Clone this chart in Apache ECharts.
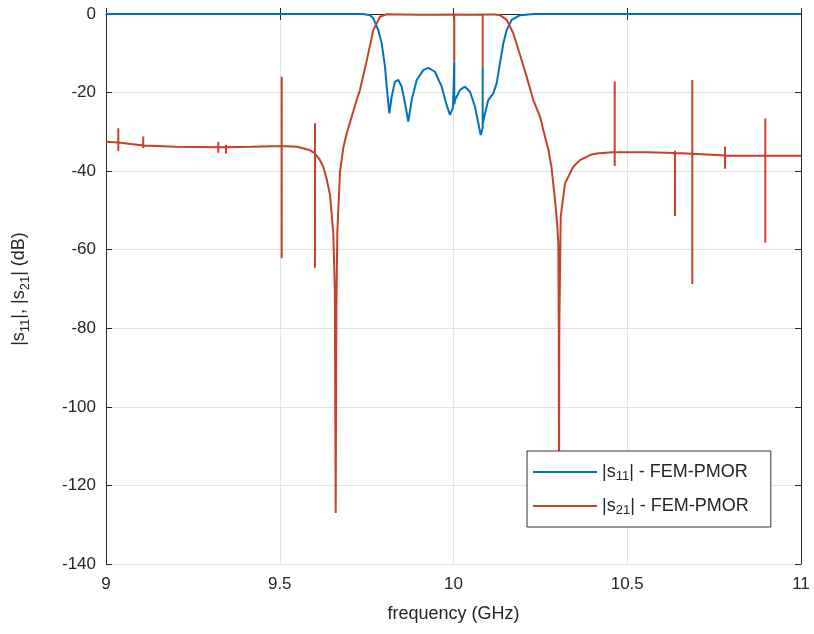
<!DOCTYPE html>
<html><head><meta charset="utf-8">
<script src="https://cdn.jsdelivr.net/npm/echarts@6/dist/echarts.min.js"></script>
<style>html,body{margin:0;padding:0;background:#fff}#c{width:814px;height:634px}</style>
</head><body><div id="c"></div>
<script>
// |s11| (blue) — frequency in GHz, magnitude in dB
const s11Freq = [9.0, 9.5, 9.74, 9.7597, 9.7692, 9.7836, 9.7934, 9.8029, 9.8078, 9.8153, 9.8222, 9.8317, 9.8412, 9.8509, 9.8604, 9.8699, 9.8797, 9.8941, 9.9131, 9.9275, 9.9468, 9.9660, 9.9804, 9.9899, 9.9985, 10.0023, 10.0023, 10.0023, 10.0043, 10.0187, 10.0331, 10.0475, 10.0619, 10.0714, 10.0783, 10.084, 10.084, 10.084, 10.0906, 10.1001, 10.1145, 10.1243, 10.1338, 10.1433, 10.1531, 10.1674, 10.1914, 10.2317, 11.0];
const s11Db   = [0, 0, 0, -0.3, -1.1, -4.1, -7.5, -13.4, -18.5, -25.3, -21.0, -17.2, -16.8, -18.5, -22.7, -27.4, -21.9, -16.8, -14.3, -13.7, -14.7, -18.5, -23.2, -25.7, -23.8, -23.5, -12.1, -23.0, -21.9, -19.3, -18.5, -19.8, -23.6, -27.8, -30.8, -29.0, -13.4, -28.0, -25.3, -21.9, -20.2, -17.6, -12.5, -7.5, -4.1, -1.5, -0.3, 0, 0];

// |s21| (red)
const s21Freq = [9.0, 9.0354, 9.0354, 9.0354, 9.0354, 9.1073, 9.1073, 9.1073, 9.1073, 9.2, 9.3232, 9.3232, 9.3232, 9.3232, 9.3453, 9.3453, 9.3453, 9.3453, 9.42, 9.5056, 9.5056, 9.5056, 9.5056, 9.55, 9.585, 9.6014, 9.6014, 9.6014, 9.6014, 9.613, 9.6253, 9.635, 9.6446, 9.6541, 9.6585, 9.661, 9.663, 9.6656, 9.6734, 9.683, 9.6927, 9.7214, 9.7309, 9.75, 9.7692, 9.7885, 9.8078, 9.85, 9.9, 9.95, 10.0023, 10.0023, 10.0023, 10.05, 10.084, 10.084, 10.084, 10.12, 10.1338, 10.1531, 10.172, 10.19, 10.2106, 10.2297, 10.2489, 10.2584, 10.2728, 10.282, 10.2921, 10.298, 10.3016, 10.303, 10.3036, 10.3045, 10.3085, 10.3209, 10.3448, 10.364, 10.3928, 10.4121, 10.4639, 10.4639, 10.4639, 10.4639, 10.556, 10.6374, 10.6374, 10.6374, 10.6374, 10.6872, 10.6872, 10.6872, 10.6872, 10.7813, 10.7813, 10.7813, 10.7813, 10.8973, 10.8973, 10.8973, 10.8973, 11.0];
const s21Db   = [-32.5, -32.7, -29.1, -34.9, -32.7, -33.5, -31.2, -34.2, -33.5, -33.8, -33.9, -32.5, -35.3, -33.9, -33.9, -33.3, -35.5, -33.9, -33.8, -33.6, -16.0, -62.2, -33.6, -33.8, -34.6, -35.5, -27.8, -64.6, -35.6, -36.8, -38.9, -42.0, -46.0, -55.8, -70.0, -127.0, -75.0, -55.8, -40.1, -34.0, -30.4, -21.9, -19.3, -12.0, -4.1, -0.7, -0.05, -0.1, -0.2, -0.2, -0.1, -12.1, -0.1, -0.2, -0.1, -13.4, -0.1, -0.1, -0.3, -1.5, -4.9, -10.0, -16.0, -21.9, -26.1, -29.5, -34.5, -39.0, -47.3, -53.0, -58.4, -80.0, -125.0, -80.0, -51.6, -43.1, -38.9, -37.2, -35.9, -35.5, -35.1, -17.2, -38.7, -35.1, -35.2, -35.4, -34.8, -51.4, -35.4, -35.6, -16.8, -68.7, -35.6, -36.0, -33.8, -39.4, -36.0, -36.1, -26.6, -58.2, -36.1, -36.1];

const xTicks = [9, 9.5, 10, 10.5, 11];
const yTicks = [0, -20, -40, -60, -80, -100, -120, -140];
const seriesNames = ['|s11| - FEM-PMOR', '|s21| - FEM-PMOR'];
const xName = 'frequency (GHz)';
const yName = '|s{sub|11}|, |s{sub|21}| (dB)';

const FONT = '"Liberation Sans", Arial, Helvetica, sans-serif';
const TXT = '#262626';
const AX = '#262626';
const GRID = '#e3e3e3';
const BLUE = '#0072BD';
const RED = '#C8402C';
const subStyle = { fontSize: 13, fontFamily: FONT, color: TXT, verticalAlign: 'bottom', padding: [12, 0, 0, 0] };

const chart = echarts.init(document.getElementById('c'), null, { renderer: 'canvas' });
const s11 = s11Freq.map((f, i) => [f, s11Db[i]]);
const s21 = s21Freq.map((f, i) => [f, s21Db[i]]);

const baseX = { type: 'value', min: xTicks[0], max: xTicks[xTicks.length - 1], interval: 0.5 };
const baseY = { type: 'value', min: yTicks[yTicks.length - 1], max: yTicks[0], interval: 20 };

chart.setOption({
  animation: false,
  backgroundColor: '#fff',
  grid: { left: 106, right: 13, top: 14, bottom: 70, containLabel: false },
  xAxis: [
    Object.assign({}, baseX, {
      position: 'bottom',
      name: xName, nameLocation: 'middle', nameGap: 41,
      nameTextStyle: { fontFamily: FONT, fontSize: 18, color: TXT },
      axisLine: { lineStyle: { color: AX, width: 1 } },
      axisTick: { inside: true, length: 6, lineStyle: { color: AX } },
      axisLabel: { fontFamily: FONT, fontSize: 17, color: TXT, margin: 12,
        formatter: v => String(v) },
      splitLine: { show: true, lineStyle: { color: GRID, width: 1 } }
    }),
    Object.assign({}, baseX, {
      position: 'top',
      axisLine: { lineStyle: { color: AX, width: 1 } },
      axisTick: { inside: true, length: 6, lineStyle: { color: AX } },
      axisLabel: { show: false },
      splitLine: { show: false }
    })
  ],
  yAxis: [
    Object.assign({}, baseY, {
      position: 'left',
      name: yName, nameLocation: 'middle', nameGap: 74, nameRotate: 90,
      nameTextStyle: { fontFamily: FONT, fontSize: 18, color: TXT, rich: { sub: subStyle } },
      axisLine: { lineStyle: { color: AX, width: 1 } },
      axisTick: { inside: true, length: 6, lineStyle: { color: AX } },
      axisLabel: { fontFamily: FONT, fontSize: 17, color: TXT, margin: 10 },
      splitLine: { show: true, lineStyle: { color: GRID, width: 1 } }
    }),
    Object.assign({}, baseY, {
      position: 'right',
      axisLine: { show: true, lineStyle: { color: AX, width: 1 } },
      axisTick: { show: true, inside: true, length: 6, lineStyle: { color: AX } },
      axisLabel: { show: false },
      splitLine: { show: false }
    })
  ],
  legend: {
    orient: 'vertical',
    left: 527, top: 451,
    z: 20,
    padding: [10, 22, 10, 6],
    itemGap: 12,
    itemWidth: 64, itemHeight: 2,
    icon: 'rect',
    backgroundColor: '#fff',
    borderColor: '#333', borderWidth: 1,
    textStyle: { fontFamily: FONT, fontSize: 18, color: TXT, lineHeight: 22, rich: { sub: subStyle } },
    formatter: name => name.replace(/\|s(\d\d)\|/, '|s{sub|$1}|'),
    data: seriesNames
  },
  series: [
    { name: seriesNames[0], type: 'line', data: s11, symbol: 'none', xAxisIndex: 0, yAxisIndex: 0,
      lineStyle: { color: BLUE, width: 2 }, itemStyle: { color: BLUE }, z: 3 },
    { name: seriesNames[1], type: 'line', data: s21, symbol: 'none', xAxisIndex: 0, yAxisIndex: 0,
      lineStyle: { color: RED, width: 2 }, itemStyle: { color: RED }, z: 4 }
  ]
});
</script></body></html>
